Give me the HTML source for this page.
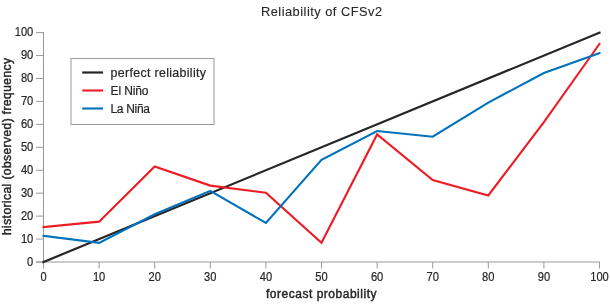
<!DOCTYPE html>
<html><head><meta charset="utf-8"><style>
html,body{margin:0;padding:0;background:#fff;}
svg{display:block;will-change:transform;font-family:"Liberation Sans",sans-serif;}
</style></head><body>
<svg width="610" height="305" viewBox="0 0 610 305">
<rect width="610" height="305" fill="#fff"/>
<text x="261" y="16" font-size="12.8" fill="#2a2a2a" stroke="#2a2a2a" stroke-width="0.12" textLength="121" lengthAdjust="spacing">Reliability of CFSv2</text>
<line x1="43.5" y1="32" x2="43.5" y2="268.5" stroke="#999" stroke-width="1"/><line x1="36" y1="262" x2="600" y2="262" stroke="#999" stroke-width="1"/><line x1="36" y1="262.0" x2="43.5" y2="262.0" stroke="#999" stroke-width="1"/><line x1="43.50" y1="262" x2="43.50" y2="268.5" stroke="#999" stroke-width="1"/><line x1="36" y1="239.06" x2="43.5" y2="239.06" stroke="#999" stroke-width="1"/><line x1="99.10" y1="262" x2="99.10" y2="268.5" stroke="#999" stroke-width="1"/><line x1="36" y1="216.12" x2="43.5" y2="216.12" stroke="#999" stroke-width="1"/><line x1="154.70" y1="262" x2="154.70" y2="268.5" stroke="#999" stroke-width="1"/><line x1="36" y1="193.18" x2="43.5" y2="193.18" stroke="#999" stroke-width="1"/><line x1="210.30" y1="262" x2="210.30" y2="268.5" stroke="#999" stroke-width="1"/><line x1="36" y1="170.24" x2="43.5" y2="170.24" stroke="#999" stroke-width="1"/><line x1="265.90" y1="262" x2="265.90" y2="268.5" stroke="#999" stroke-width="1"/><line x1="36" y1="147.3" x2="43.5" y2="147.3" stroke="#999" stroke-width="1"/><line x1="321.50" y1="262" x2="321.50" y2="268.5" stroke="#999" stroke-width="1"/><line x1="36" y1="124.35999999999999" x2="43.5" y2="124.35999999999999" stroke="#999" stroke-width="1"/><line x1="377.10" y1="262" x2="377.10" y2="268.5" stroke="#999" stroke-width="1"/><line x1="36" y1="101.41999999999999" x2="43.5" y2="101.41999999999999" stroke="#999" stroke-width="1"/><line x1="432.70" y1="262" x2="432.70" y2="268.5" stroke="#999" stroke-width="1"/><line x1="36" y1="78.47999999999999" x2="43.5" y2="78.47999999999999" stroke="#999" stroke-width="1"/><line x1="488.30" y1="262" x2="488.30" y2="268.5" stroke="#999" stroke-width="1"/><line x1="36" y1="55.53999999999999" x2="43.5" y2="55.53999999999999" stroke="#999" stroke-width="1"/><line x1="543.90" y1="262" x2="543.90" y2="268.5" stroke="#999" stroke-width="1"/><line x1="36" y1="32.599999999999994" x2="43.5" y2="32.599999999999994" stroke="#999" stroke-width="1"/><line x1="599.50" y1="262" x2="599.50" y2="268.5" stroke="#999" stroke-width="1"/>
<g font-size="12" fill="#262626" stroke="#262626" stroke-width="0.2"><text x="33.3" y="265.6" text-anchor="end" textLength="6.2" lengthAdjust="spacingAndGlyphs">0</text><text x="43.50" y="280.8" text-anchor="middle" textLength="6.2" lengthAdjust="spacingAndGlyphs">0</text><text x="33.3" y="242.7" text-anchor="end" textLength="12.4" lengthAdjust="spacingAndGlyphs">10</text><text x="99.10" y="280.8" text-anchor="middle" textLength="12.4" lengthAdjust="spacingAndGlyphs">10</text><text x="33.3" y="219.7" text-anchor="end" textLength="12.4" lengthAdjust="spacingAndGlyphs">20</text><text x="154.70" y="280.8" text-anchor="middle" textLength="12.4" lengthAdjust="spacingAndGlyphs">20</text><text x="33.3" y="196.8" text-anchor="end" textLength="12.4" lengthAdjust="spacingAndGlyphs">30</text><text x="210.30" y="280.8" text-anchor="middle" textLength="12.4" lengthAdjust="spacingAndGlyphs">30</text><text x="33.3" y="173.8" text-anchor="end" textLength="12.4" lengthAdjust="spacingAndGlyphs">40</text><text x="265.90" y="280.8" text-anchor="middle" textLength="12.4" lengthAdjust="spacingAndGlyphs">40</text><text x="33.3" y="150.9" text-anchor="end" textLength="12.4" lengthAdjust="spacingAndGlyphs">50</text><text x="321.50" y="280.8" text-anchor="middle" textLength="12.4" lengthAdjust="spacingAndGlyphs">50</text><text x="33.3" y="128.0" text-anchor="end" textLength="12.4" lengthAdjust="spacingAndGlyphs">60</text><text x="377.10" y="280.8" text-anchor="middle" textLength="12.4" lengthAdjust="spacingAndGlyphs">60</text><text x="33.3" y="105.0" text-anchor="end" textLength="12.4" lengthAdjust="spacingAndGlyphs">70</text><text x="432.70" y="280.8" text-anchor="middle" textLength="12.4" lengthAdjust="spacingAndGlyphs">70</text><text x="33.3" y="82.1" text-anchor="end" textLength="12.4" lengthAdjust="spacingAndGlyphs">80</text><text x="488.30" y="280.8" text-anchor="middle" textLength="12.4" lengthAdjust="spacingAndGlyphs">80</text><text x="33.3" y="59.1" text-anchor="end" textLength="12.4" lengthAdjust="spacingAndGlyphs">90</text><text x="543.90" y="280.8" text-anchor="middle" textLength="12.4" lengthAdjust="spacingAndGlyphs">90</text><text x="33.3" y="36.2" text-anchor="end" textLength="18.6" lengthAdjust="spacingAndGlyphs">100</text><text x="599.50" y="280.8" text-anchor="middle" textLength="18.6" lengthAdjust="spacingAndGlyphs">100</text></g>
<text x="266" y="297.5" font-size="12" fill="#262626" stroke="#262626" stroke-width="0.45" textLength="110.5" lengthAdjust="spacing">forecast probability</text>
<text transform="translate(11,235) rotate(-90)" x="0" y="0" font-size="12" fill="#262626" stroke="#262626" stroke-width="0.45" textLength="177" lengthAdjust="spacing">historical (observed) frequency</text>
<polyline points="43.5,262.0 599.5,32.599999999999994" fill="none" stroke="#262626" stroke-width="2.2" stroke-linecap="square"/>
<polyline points="43.50,227.13 99.10,221.63 154.70,166.57 210.30,185.61 265.90,192.72 321.50,242.73 377.10,134.45 432.70,180.10 488.30,195.47 543.90,122.07 599.50,43.84" fill="none" stroke="#ed1c24" stroke-width="2.1" stroke-linejoin="miter" stroke-linecap="square"/>
<polyline points="43.50,235.85 99.10,242.85 154.70,214.28 210.30,190.89 265.90,223.00 321.50,159.92 377.10,131.01 432.70,136.75 488.30,102.57 543.90,72.97 599.50,53.02" fill="none" stroke="#0072bc" stroke-width="2.1" stroke-linejoin="miter" stroke-linecap="square"/>
<rect x="71" y="58.5" width="143" height="66" fill="#fff" stroke="#999" stroke-width="1"/>
<line stroke-linecap="square" x1="83.3" y1="72.5" x2="102" y2="72.5" stroke="#262626" stroke-width="2.2"/>
<line stroke-linecap="square" x1="83.3" y1="90.5" x2="102" y2="90.5" stroke="#ed1c24" stroke-width="2.1"/>
<line stroke-linecap="square" x1="83.3" y1="108.5" x2="102" y2="108.5" stroke="#0072bc" stroke-width="2.1"/>
<g font-size="12" fill="#262626" stroke="#262626" stroke-width="0.2">
<text x="110.5" y="77" font-size="12.4" textLength="95.5" lengthAdjust="spacing">perfect reliability</text>
<text x="110.5" y="95" textLength="38" lengthAdjust="spacing">El Niño</text>
<text x="110.5" y="113" textLength="39.5" lengthAdjust="spacing">La Niña</text>
</g>
</svg>
</body></html>
